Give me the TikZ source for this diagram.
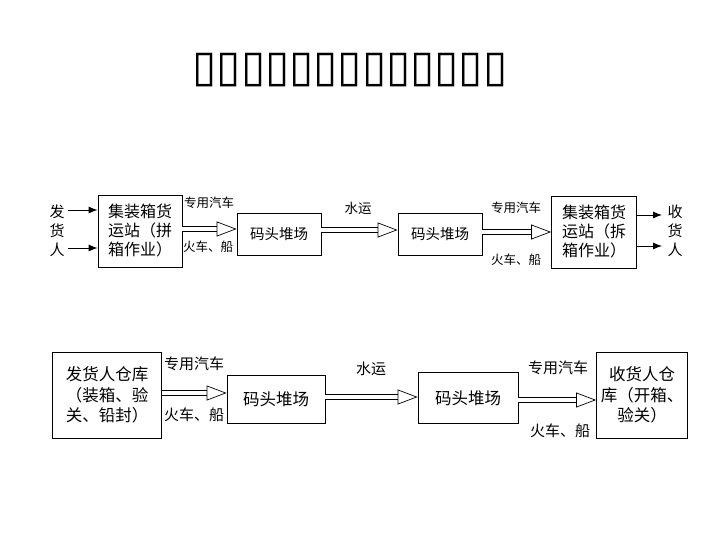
\documentclass[tikz,border=0pt]{standalone}
\usepackage{fontspec}
\newfontfamily\cjk{Noto Sans CJK SC}
\newfontfamily\symfont{DejaVu Sans}
\usetikzlibrary{arrows.meta}

\tikzset{
  station/.style={draw, line width=0.8pt, inner sep=0pt, align=center,
    font=\cjk\fontsize{16}{19}\selectfont},
  bigstation/.style={station, font=\cjk\fontsize{16.5}{20.5}\selectfont},
  party/.style={inner sep=0pt, align=center, font=\cjk\fontsize{15}{19}\selectfont},
  lbl/.style={inner sep=0pt, font=\cjk\fontsize{12.5}{14}\selectfont},
  biglbl/.style={inner sep=0pt, font=\cjk\fontsize{15}{16}\selectfont},
  thinarrow/.style={line width=0.9pt, -{Latex[length=9pt,width=7pt]}},
  hollow/.style={double, double distance=4.5pt, line width=0.7pt,
    -{Triangle[open,length=20pt,width=15pt,line width=0.7pt]}}
}

\begin{document}
\begin{tikzpicture}[x=1pt,y=-1pt]
    \useasboundingbox (0,0) rectangle (720,540);

    % title
    \node[font=\symfont\bfseries\fontsize{44}{44}\selectfont] (title) at (350,70) {▯▯▯▯▯▯▯▯▯▯▯▯▯};

    % first chain
    \node[party] (sender) at (57,231) {发\\货\\人};
    \node[station, minimum width=84pt, minimum height=72pt] (cfs1) at (140,231) {集装箱货\\运站（拼\\箱作业）};
    \node[station, font=\cjk\fontsize{14.5}{16}\selectfont, minimum width=84pt, minimum height=42pt] (yard1) at (279,234) {码头堆场};
    \node[station, font=\cjk\fontsize{14.5}{16}\selectfont, minimum width=84pt, minimum height=42pt] (yard2) at (440,234) {码头堆场};
    \node[station, minimum width=85pt, minimum height=72pt] (cfs2) at (594,232) {集装箱货\\运站（拆\\箱作业）};
    \node[party] (receiver) at (675,231) {收\\货\\人};

    \coordinate (in1) at (68,210);
    \coordinate (in2) at (68,248);
    \draw[thinarrow] (in1) -- (in1 -| cfs1.west);
    \draw[thinarrow] (in2) -- (in2 -| cfs1.west);
    \coordinate (out1) at (662,215);
    \coordinate (out2) at (662,246);
    \draw[thinarrow] (out1 -| cfs2.east) -- (out1);
    \draw[thinarrow] (out2 -| cfs2.east) -- (out2);

    \draw[hollow] (cfs1.east |- 0,229) -- (yard1.west |- 0,229);
    \draw[hollow] (yard1.east |- 0,230) -- (yard2.west |- 0,230);
    \draw[hollow] (yard2.east |- 0,232) -- (cfs2.west |- 0,232);

    \node[lbl] (truck1) at (209,203) {专用汽车};
    \node[lbl] (rail1) at (208,247) {火车、船};
    \node[lbl, font=\cjk\fontsize{13.5}{14}\selectfont] (sea1) at (358,208) {水运};
    \node[lbl] (truck2) at (516,208) {专用汽车};
    \node[lbl] (rail2) at (516,260) {火车、船};

    % second chain
    \node[bigstation, minimum width=109pt, minimum height=86pt] (shipper) at (107,395) {发货人仓库\\（装箱、验\\关、铅封）};
    \node[bigstation, minimum width=98pt, minimum height=48pt] (yard3) at (276,399) {码头堆场};
    \node[bigstation, minimum width=100pt, minimum height=51pt] (yard4) at (468,398) {码头堆场};
    \node[bigstation, minimum width=91pt, minimum height=86pt] (consignee) at (642,395) {收货人仓\\库（开箱、\\验关）};

    \draw[hollow] (shipper.east |- 0,393) -- (yard3.west |- 0,393);
    \draw[hollow] (yard3.east |- 0,397) -- (yard4.west |- 0,397);
    \draw[hollow] (yard4.east |- 0,400) -- (consignee.west |- 0,400);

    \node[biglbl] (truck3) at (194,364) {专用汽车};
    \node[biglbl] (rail3) at (194,415) {火车、船};
    \node[biglbl] (sea2) at (371,369) {水运};
    \node[biglbl] (truck4) at (558,368) {专用汽车};
    \node[biglbl] (rail4) at (560,431) {火车、船};
\end{tikzpicture}
\end{document}
